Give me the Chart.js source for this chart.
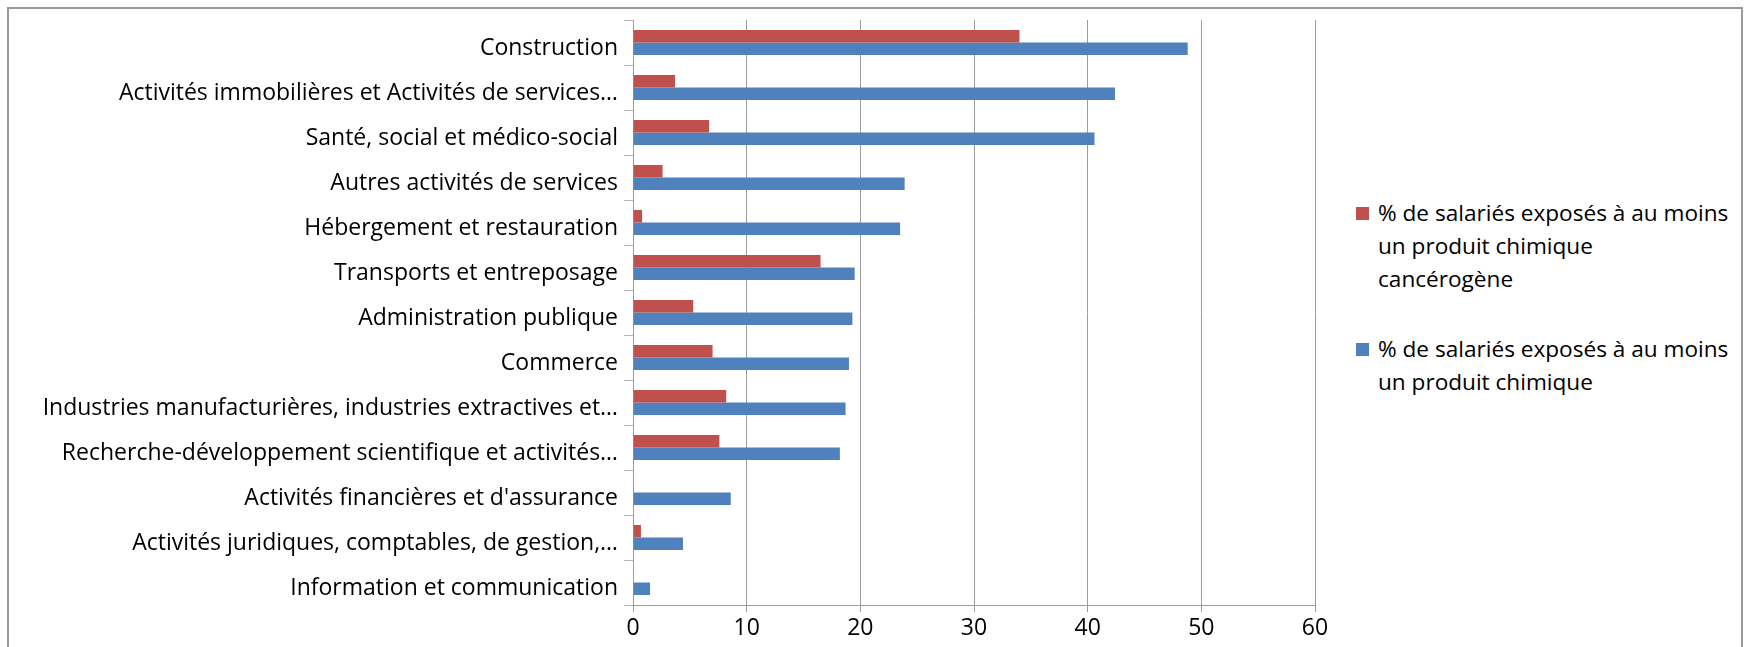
<!DOCTYPE html>
<html lang="fr">
<head>
<meta charset="utf-8">
<title>Salariés exposés aux produits chimiques</title>
<script src="https://cdn.jsdelivr.net/npm/chart.js@4/dist/chart.umd.min.js"></script>
<style>
  html, body { margin: 0; padding: 0; background: #fff; overflow: hidden; }
  body { width: 1748px; height: 647px; position: relative; font-family: "Open Sans", Lato, sans-serif; }
  #frame {
    position: absolute; left: 7px; top: 7px; width: 1736px; height: 700px;
    border: 2px solid #9a9a9a; box-sizing: border-box;
  }
  #wrap { position: absolute; left: 0; top: 0; width: 1345px; height: 647px; }
  #legend { position: absolute; left: 1356px; top: 196px; width: 385px; }
  .item { position: relative; padding-left: 22px; font-size: 22.6px; line-height: 33px; color: #000; margin-bottom: 37px; white-space: nowrap; }
  .item .box { position: absolute; left: 0; top: 11px; width: 13px; height: 13px; }
</style>
</head>
<body>
<div id="frame"></div>
<div id="wrap"><canvas id="expoChart"></canvas></div>
<div id="legend"></div>

<script>
// Secteurs, du haut vers le bas
const sectors = [
  "Construction",
  "Activités immobilières et Activités de services…",
  "Santé, social et médico-social",
  "Autres activités de services",
  "Hébergement et restauration",
  "Transports et entreposage",
  "Administration publique",
  "Commerce",
  "Industries manufacturières, industries extractives et…",
  "Recherche-développement scientifique et activités…",
  "Activités financières et d'assurance",
  "Activités juridiques, comptables, de gestion,…",
  "Information et communication",
];

// % de salariés exposés à au moins un produit chimique cancérogène
const cancerValues = [34.0, 3.7, 6.7, 2.6, 0.8, 16.5, 5.3, 7.0, 8.2, 7.6, 0, 0.7, 0];

// % de salariés exposés à au moins un produit chimique
const chemValues = [48.8, 42.4, 40.6, 23.9, 23.5, 19.5, 19.3, 19.0, 18.7, 18.2, 8.6, 4.4, 1.5];

// libellés des séries, découpés en lignes comme dans la légende d'origine
const seriesLabels = [
  ["% de salariés exposés à au moins", "un produit chimique", "cancérogène"],
  ["% de salariés exposés à au moins", "un produit chimique"],
];

const xTicks = [0, 10, 20, 30, 40, 50, 60];

const COLORS = {
  red: "#C0504D",
  blue: "#4F81BD",
  grid: "#9c9c9c",
  tick: "#b5b5b5",
  text: "#000000",
};

function drawChart() {
  Chart.defaults.font.family = "'Open Sans', Lato, sans-serif";
  Chart.defaults.font.size = 23;
  Chart.defaults.color = COLORS.text;

  const ctx = document.getElementById("expoChart");
  const chart = new Chart(ctx, {
    type: "bar",
    data: {
      labels: sectors,
      datasets: [
        {
          label: seriesLabels[0].join(" "),
          data: cancerValues,
          backgroundColor: COLORS.red,
          borderWidth: 0,
          barPercentage: 1,
          categoryPercentage: 0.556,
        },
        {
          label: seriesLabels[1].join(" "),
          data: chemValues,
          backgroundColor: COLORS.blue,
          borderWidth: 0,
          barPercentage: 1,
          categoryPercentage: 0.556,
        },
      ],
    },
    options: {
      indexAxis: "y",
      responsive: true,
      maintainAspectRatio: false,
      animation: false,
      layout: { padding: { top: 20, right: 30, left: 0, bottom: 0 } },
      scales: {
        x: {
          min: 0,
          max: 60,
          afterBuildTicks: (s) => { s.ticks = xTicks.map((v) => ({ value: v })); },
          afterFit: (s) => { s.height = 42; },
          grid: { color: COLORS.grid, lineWidth: 1, tickLength: 7, tickColor: COLORS.grid },
          border: { display: true, color: COLORS.grid, width: 1 },
          ticks: { padding: 3, color: COLORS.text },
        },
        y: {
          afterFit: (s) => {
            s.width = 633;
            s.paddingTop = 0;
            s.paddingBottom = 0;
          },
          grid: { drawOnChartArea: false, offset: true, tickLength: 9, color: COLORS.tick },
          border: { display: true, color: COLORS.grid, width: 1 },
          ticks: { padding: 6, labelOffset: 6, color: COLORS.text, autoSkip: false },
        },
      },
      plugins: { legend: { display: false }, tooltip: { enabled: false } },
    },
  });

  // Légende à droite, construite depuis les séries du graphique
  const legend = document.getElementById("legend");
  chart.data.datasets.forEach((ds, i) => {
    const item = document.createElement("div");
    item.className = "item";
    const box = document.createElement("span");
    box.className = "box";
    box.style.background = ds.backgroundColor;
    item.appendChild(box);
    seriesLabels[i].forEach((line, j) => {
      if (j > 0) item.appendChild(document.createElement("br"));
      item.appendChild(document.createTextNode(line));
    });
    legend.appendChild(item);
  });
}

if (document.fonts && document.fonts.load) {
  document.fonts.load("23px 'Open Sans'").then(drawChart, drawChart);
} else {
  drawChart();
}
</script>
</body>
</html>
